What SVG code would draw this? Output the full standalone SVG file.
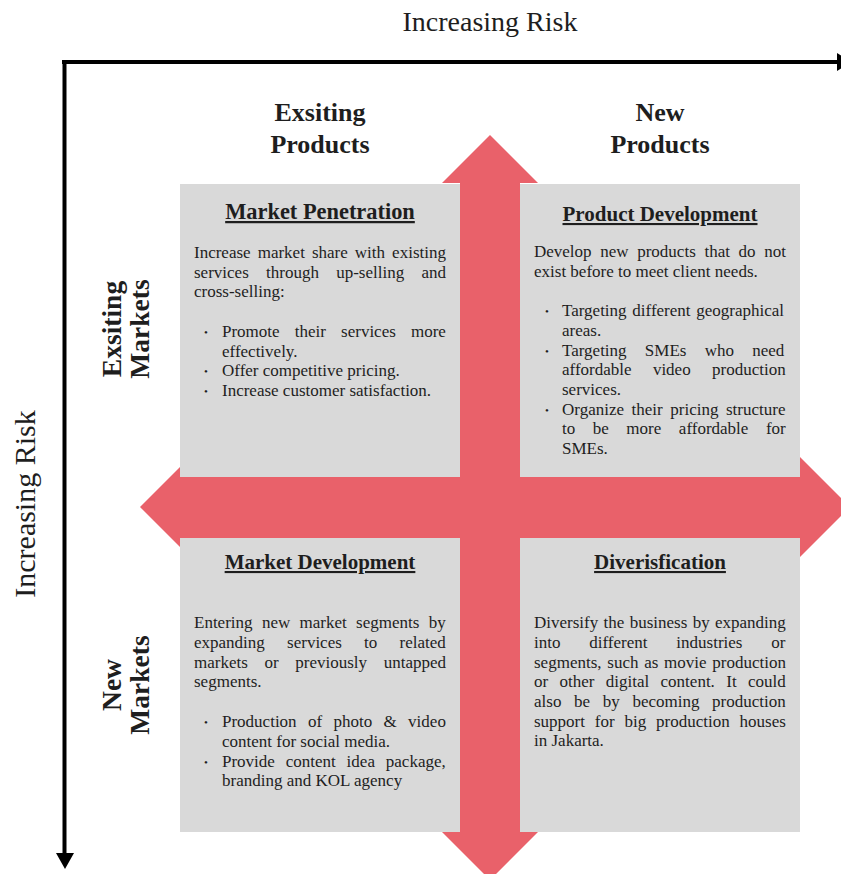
<svg xmlns="http://www.w3.org/2000/svg" width="841" height="874" viewBox="0 0 841 874">
<style>
text{font-family:"Liberation Serif","Times New Roman",serif;fill:#1e1e1e}
.axis{font-size:28px}
.hdr{font-size:26px;font-weight:bold;text-anchor:middle}
.vh{font-size:27.5px}
.ttl{font-size:21px;font-weight:bold;text-anchor:middle;text-decoration:underline}
.bd{font-size:17px}
.bul{font-size:11px}
.box{fill:#d9d9d9}
</style>
<g id="cross-arrow">
<polygon fill="#e9616a" points="490,135 538,183 520,183 520,477 800,477 800,457 850,507 800,557 800,538 520,538 520,832 538,832 490,880 442,832 460,832 460,538 188,538 188,555 140,507 188,459 188,477 460,477 460,183 442,183"/>
</g>
<g id="axes">
<line x1="62" y1="62" x2="840" y2="62" stroke="#000" stroke-width="4"/>
<polygon points="837,53 852,62 837,71" fill="#000"/>
<line x1="64.5" y1="60" x2="64.5" y2="855" stroke="#000" stroke-width="4"/>
<polygon points="56,853 74,853 65,869" fill="#000"/>
<text class="axis" x="490" y="31" text-anchor="middle">Increasing Risk</text>
<text class="axis" style="font-size:30px" transform="translate(35,504) rotate(-90)" text-anchor="middle">Increasing Risk</text>
</g>
<g id="headers">
<text class="hdr" x="320" y="121">Exsiting</text>
<text class="hdr" x="320" y="153">Products</text>
<text class="hdr" x="660" y="121">New</text>
<text class="hdr" x="660" y="153">Products</text>
<text class="hdr vh" transform="translate(121,329) rotate(-90)">Exsiting</text>
<text class="hdr vh" transform="translate(149,329) rotate(-90)">Markets</text>
<text class="hdr vh" transform="translate(121,685) rotate(-90)">New</text>
<text class="hdr vh" transform="translate(149,685) rotate(-90)">Markets</text>
</g>
<g id="market-penetration">
<rect class="box" x="180" y="184" width="280" height="293"/>
<text class="ttl" x="320" y="219" style="font-size:22.4px">Market Penetration</text>
<text class="bd" x="194" y="258" style="word-spacing:2.8px">Increase market share with existing</text>
<text class="bd" x="194" y="277.7" style="word-spacing:13px">services through up-selling and</text>
<text class="bd" x="194" y="297.4">cross-selling:</text>
<text class="bul" x="204" y="336">•</text>
<text class="bd" x="222" y="337" style="word-spacing:10.9px">Promote their services more</text>
<text class="bd" x="222" y="356.7">effectively.</text>
<text class="bul" x="204" y="375.4">•</text>
<text class="bd" x="222" y="376.4">Offer competitive pricing.</text>
<text class="bul" x="204" y="395.1">•</text>
<text class="bd" x="222" y="396.1">Increase customer satisfaction.</text>
</g>
<g id="product-development">
<rect class="box" x="520" y="184" width="280" height="293"/>
<text class="ttl" x="660" y="221">Product Development</text>
<text class="bd" x="534" y="257" style="word-spacing:4.4px">Develop new products that do not</text>
<text class="bd" x="534" y="277">exist before to meet client needs.</text>
<text class="bul" x="545" y="315">•</text>
<text class="bd" x="562" y="316" style="word-spacing:1.5px">Targeting different geographical</text>
<text class="bd" x="562" y="336">areas.</text>
<text class="bul" x="545" y="354.5">•</text>
<text class="bd" x="562" y="355.5" style="word-spacing:14px">Targeting SMEs who need</text>
<text class="bd" x="562" y="375" style="word-spacing:17.1px">affordable video production</text>
<text class="bd" x="562" y="395">services.</text>
<text class="bul" x="545" y="413.5">•</text>
<text class="bd" x="562" y="414.5" style="word-spacing:3.3px">Organize their pricing structure</text>
<text class="bd" x="562" y="434" style="word-spacing:13.3px">to be more affordable for</text>
<text class="bd" x="562" y="454">SMEs.</text>
</g>
<g id="market-development">
<rect class="box" x="180" y="538" width="280" height="294"/>
<text class="ttl" x="320" y="569">Market Development</text>
<text class="bd" x="194" y="628" style="word-spacing:5.1px">Entering new market segments by</text>
<text class="bd" x="194" y="648" style="word-spacing:18px">expanding services to related</text>
<text class="bd" x="194" y="668" style="word-spacing:12.4px">markets or previously untapped</text>
<text class="bd" x="194" y="687">segments.</text>
<text class="bul" x="204" y="726">•</text>
<text class="bd" x="222" y="727" style="word-spacing:7.1px">Production of photo &amp; video</text>
<text class="bd" x="222" y="747">content for social media.</text>
<text class="bul" x="204" y="766">•</text>
<text class="bd" x="222" y="767" style="word-spacing:6.6px">Provide content idea package,</text>
<text class="bd" x="222" y="786">branding and KOL agency</text>
</g>
<g id="diversification">
<rect class="box" x="520" y="538" width="280" height="294"/>
<text class="ttl" x="660" y="569">Diverisfication</text>
<text class="bd" x="534" y="628" style="word-spacing:1.1px">Diversify the business by expanding</text>
<text class="bd" x="534" y="648" style="word-spacing:24.6px">into different industries or</text>
<text class="bd" x="534" y="668" style="word-spacing:1.5px">segments, such as movie production</text>
<text class="bd" x="534" y="687" style="word-spacing:7.1px">or other digital content. It could</text>
<text class="bd" x="534" y="707" style="word-spacing:8.4px">also be by becoming production</text>
<text class="bd" x="534" y="727" style="word-spacing:5.6px">support for big production houses</text>
<text class="bd" x="534" y="746">in Jakarta.</text>
</g>
</svg>
